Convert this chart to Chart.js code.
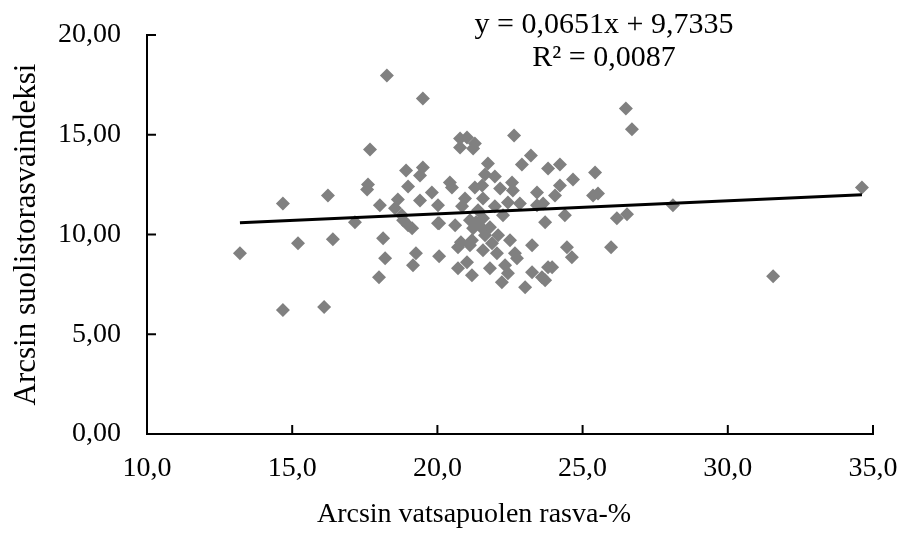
<!DOCTYPE html>
<html><head><meta charset="utf-8">
<script src="https://cdn.jsdelivr.net/npm/chart.js@4"></script>
<style>html,body{margin:0;padding:0;background:#fff}</style>
</head><body>
<canvas id="c" width="901" height="533"></canvas>
<script>
const xValues = [13.20,14.68,14.68,15.20,16.10,16.23,16.40,17.16,17.61,17.58,
17.68,18.26,18.02,18.13,18.20,17.99,18.64,18.54,18.92,19.50,
19.40,18.99,19.50,19.81,19.40,20.02,20.43,20.50,20.78,21.02,
20.78,21.29,21.23,22.64,21.74,23.22,22.91,23.81,21.64,21.98,
21.29,21.54,22.16,22.57,22.60,23.43,20.95,21.57,22.43,22.84,
23.64,26.49,26.70,24.22,25.43,24.67,24.22,24.05,25.36,25.53,
24.39,23.71,26.18,26.53,28.11,34.62,24.46,24.63,25.98,23.95,
23.71,31.56,18.99,18.78,19.26,19.16,20.06,20.06,20.61,20.71,
20.71,21.02,21.19,20.81,21.19,21.57,21.88,22.05,22.50,22.67,
23.26,21.81,22.33,22.22,22.43,22.74,23.26,23.60,23.81,23.02,
21.57,22.26,21.12,21.23,21.54,21.81,22.09,21.64,20.02,19.13,
18.82,21.12,23.43,21.33,20.85,21.40,21.98];
const yValues = [9.06,11.56,6.21,9.56,6.36,11.96,9.76,10.61,12.51,12.26,
14.26,17.97,11.46,9.81,8.81,7.86,11.76,11.31,13.21,13.36,
12.96,12.41,16.82,12.11,11.71,11.46,12.61,12.36,14.81,14.86,
14.36,14.56,14.31,14.96,13.56,13.96,13.51,13.31,13.01,12.91,
12.36,12.46,12.31,12.61,12.21,12.11,11.81,11.81,11.61,11.56,
11.56,16.32,15.27,13.51,13.11,12.76,12.46,11.96,11.96,12.06,
10.96,10.61,10.81,11.01,11.46,12.36,9.36,8.86,9.36,8.36,
7.71,7.91,10.46,10.96,9.06,8.46,8.91,10.56,10.46,9.36,
8.31,8.61,7.96,9.61,9.71,9.21,9.56,9.06,9.71,9.06,
9.46,8.31,8.46,7.61,8.06,8.81,8.11,7.86,8.36,7.36,
10.81,10.96,10.71,10.31,10.31,10.36,9.96,9.96,10.56,10.31,
10.71,9.46,11.46,10.61,11.41,11.21,11.41];
const xTicks = [10, 15, 20, 25, 30, 35];
const yTicks = [0, 5, 10, 15, 20];
const trendSlope = 0.0651;
const trendIntercept = 9.7335;
const equationText = 'y = 0,0651x + 9,7335';
const r2Text = 'R\u00B2 = 0,0087';
const xTitle = 'Arcsin vatsapuolen rasva-%';
const yTitle = 'Arcsin suolistorasvaindeksi';

const FONT = '"Liberation Serif", "DejaVu Serif", serif';
const points = xValues.map((x, i) => ({x: x, y: yValues[i]}));
const xMin = Math.min(...xValues), xMax = Math.max(...xValues);
const trendPts = [xMin, xMax].map(x => ({x: x, y: trendSlope * x + trendIntercept}));

const decor = {
  id: 'decor',
  afterDatasetsDraw(chart) {
    const ctx = chart.ctx, xs = chart.scales.x, ys = chart.scales.y, ca = chart.chartArea;
    ctx.save();
    ctx.strokeStyle = '#000'; ctx.lineWidth = 2;
    xTicks.forEach(v => { if (v === xTicks[0]) return; const p = xs.getPixelForValue(v);
      ctx.beginPath(); ctx.moveTo(p, ca.bottom); ctx.lineTo(p, ca.bottom - 9); ctx.stroke(); });
    yTicks.forEach(v => { if (v === yTicks[0]) return; const p = ys.getPixelForValue(v);
      ctx.beginPath(); ctx.moveTo(ca.left, p); ctx.lineTo(ca.left + 9, p); ctx.stroke(); });
    ctx.fillStyle = '#000';
    ctx.textAlign = 'center'; ctx.textBaseline = 'middle';
    ctx.font = '30px ' + FONT;
    ctx.fillText(equationText, 604, 25);
    ctx.fillText(r2Text, 604, 58);
    ctx.font = '28px ' + FONT;
    ctx.fillText(xTitle, 474, 515);
    ctx.restore();
  }
};

new Chart(document.getElementById('c'), {
  data: {
    datasets: [
      { type: 'line', data: trendPts, borderColor: '#000', borderWidth: 3, pointRadius: 0, fill: false },
      { type: 'scatter', data: points, pointStyle: 'rectRot', pointRadius: 7, pointHoverRadius: 7,
        backgroundColor: '#808080', borderWidth: 0 }
    ]
  },
  options: {
    responsive: false, animation: false,
    layout: { padding: { top: 35, right: 28, left: 0, bottom: 0 } },
    plugins: { legend: { display: false }, tooltip: { enabled: false } },
    scales: {
      x: {
        type: 'linear', position: 'bottom', min: xTicks[0], max: xTicks[xTicks.length - 1],
        afterBuildTicks: s => { s.ticks = xTicks.map(v => ({value: v})); },
        afterFit: s => { s.height = 99; s.paddingLeft = 0; s.paddingRight = 0; },
        grid: { display: false, drawTicks: false },
        border: { display: true, color: '#000', width: 2 },
        ticks: { color: '#000', padding: 18, font: { family: FONT, size: 28 },
          callback: v => v.toFixed(1).replace('.', ',') },
        title: { display: false, text: xTitle }
      },
      y: {
        type: 'linear', min: yTicks[0], max: yTicks[yTicks.length - 1],
        afterBuildTicks: s => { s.ticks = yTicks.map(v => ({value: v})); },
        afterFit: s => { s.width = 147; s.paddingTop = 0; s.paddingBottom = 0; },
        grid: { display: false, drawTicks: false },
        border: { display: true, color: '#000', width: 2 },
        ticks: { color: '#000', padding: 26, font: { family: FONT, size: 28 },
          callback: v => v.toFixed(2).replace('.', ',') },
        title: { display: true, text: yTitle, color: '#000', padding: { top: 8, bottom: 0 },
          font: { family: FONT, size: 31 } }
      }
    }
  },
  plugins: [decor]
});
</script>
</body></html>
